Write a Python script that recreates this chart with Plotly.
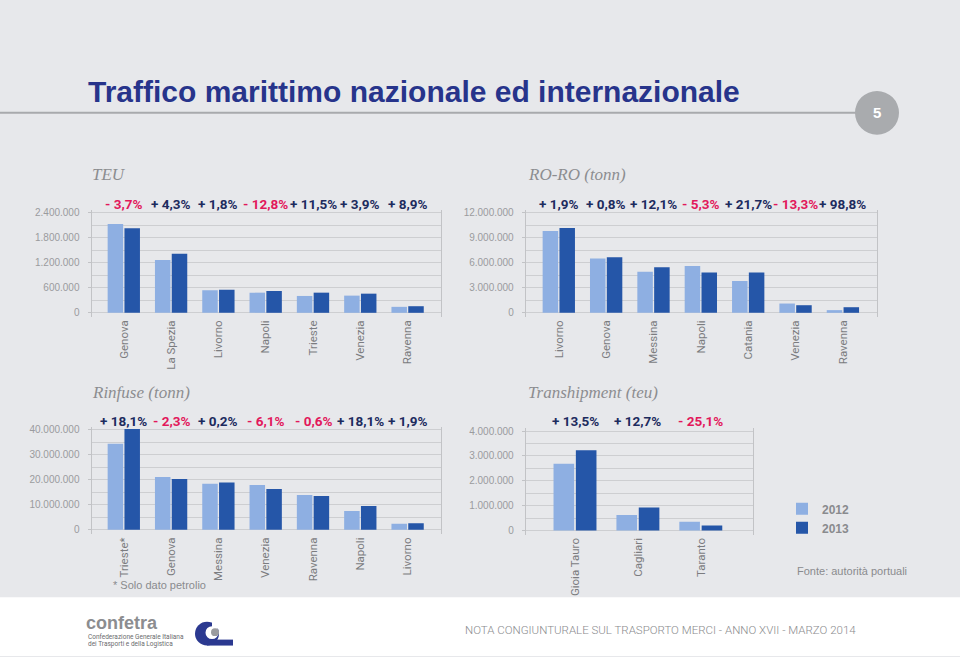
import plotly.graph_objects as go

# ---------------- DATA ----------------
teu_ports = ["Genova", "La Spezia", "Livorno", "Napoli", "Trieste", "Venezia", "Ravenna"]
teu_2012 = [2130000, 1267000, 539000, 483000, 404000, 412000, 143000]
teu_2013 = [2030000, 1418000, 554000, 523000, 483000, 459000, 158000]
teu_pct = ["- 3,7%", "+ 4,3%", "+ 1,8%", "- 12,8%", "+ 11,5%", "+ 3,9%", "+ 8,9%"]

roro_ports = ["Livorno", "Genova", "Messina", "Napoli", "Catania", "Venezia", "Ravenna"]
roro_2012 = [9820000, 6500000, 4910000, 5620000, 3800000, 1110000, 320000]
roro_2013 = [10180000, 6650000, 5470000, 4830000, 4830000, 910000, 670000]
roro_pct = ["+ 1,9%", "+ 0,8%", "+ 12,1%", "- 5,3%", "+ 21,7%", "- 13,3%", "+ 98,8%"]

rinf_ports = ["Trieste*", "Genova", "Messina", "Venezia", "Ravenna", "Napoli", "Livorno"]
rinf_2012 = [34400000, 21060000, 18400000, 17880000, 13900000, 7550000, 2380000]
rinf_2013 = [40300000, 20260000, 18940000, 16290000, 13500000, 9540000, 2650000]
rinf_pct = ["+ 18,1%", "- 2,3%", "+ 0,2%", "- 6,1%", "- 0,6%", "+ 18,1%", "+ 1,9%"]

trans_ports = ["Gioia Tauro", "Cagliari", "Taranto"]
trans_2012 = [2690000, 627000, 347000]
trans_2013 = [3230000, 920000, 200000]
trans_pct = ["+ 13,5%", "+ 12,7%", "- 25,1%"]

years = ["2012", "2013"]
panel_titles = ["TEU", "RO-RO (tonn)", "Rinfuse (tonn)", "Transhipment (teu)"]
y_tops = [2400000, 12000000, 40000000, 4000000]

# ---------------- STYLE ----------------
W, H = 960, 657
C12 = "#8eafe2"
C13 = "#2556a8"
POS = "#1d2b5e"
NEG = "#e2185b"
GRID = "#cdced1"
ROBOTO = "Roboto, Liberation Sans, Arial, sans-serif"
SANS = "Liberation Sans, Arial, sans-serif"


def px_x(x):
    return x / W


def px_y(y):
    return 1 - y / H


def xgeom(left, right, c0, spacing):
    return [px_x(left), px_x(right)], [(left - c0) / spacing, (right - c0) / spacing]


def ygeom(top, bottom, grid_top, zero, vtop):
    s = vtop / (zero - grid_top)
    return [px_y(bottom), px_y(top)], [-(bottom - zero) * s, vtop + (grid_top - top) * s]


panels = [
    dict(ports=teu_ports, a=teu_2012, b=teu_2013, pct=teu_pct,
         xg=xgeom(91.5, 441, 123.8, 47.3), yg=ygeom(208, 316, 211, 311.7, y_tops[0]),
         pct_y=202.5, title_xy=(90, 173)),
    dict(ports=roro_ports, a=roro_2012, b=roro_2013, pct=roro_pct,
         xg=xgeom(525.7, 877, 558.8, 47.35), yg=ygeom(208, 316, 211, 311.7, y_tops[1]),
         pct_y=202.5, title_xy=(526, 173)),
    dict(ports=rinf_ports, a=rinf_2012, b=rinf_2013, pct=rinf_pct,
         xg=xgeom(91.5, 441, 123.8, 47.3), yg=ygeom(426.5, 534.5, 429.3, 530, y_tops[2]),
         pct_y=420.5, title_xy=(90, 392)),
    dict(ports=trans_ports, a=trans_2012, b=trans_2013, pct=trans_pct,
         xg=xgeom(525.7, 753.3, 575, 62.9), yg=ygeom(427.5, 535, 430.7, 530.7, y_tops[3]),
         pct_y=421, title_xy=(526, 392)),
]

fig = go.Figure()
annotations = []
layout_axes = {}

for i, p in enumerate(panels):
    n = "" if i == 0 else str(i + 1)
    xa, ya = "x" + n, "y" + n
    for vals, col, yr in ((p["a"], C12, years[0]), (p["b"], C13, years[1])):
        fig.add_trace(go.Bar(
            x=p["ports"], y=vals, name="<b>" + yr + "</b>", marker=dict(color=col, line=dict(width=0)),
            xaxis=xa, yaxis=ya, showlegend=(i == 0), legendgroup=yr,
        ))
    vtop = y_tops[i]
    layout_axes["xaxis" + n] = dict(
        domain=p["xg"][0], range=p["xg"][1], anchor=ya, type="category",
        categoryorder="array", categoryarray=p["ports"],
        tickangle=-90, showgrid=False, ticks="", showline=False, zeroline=False,
        tickfont=dict(family=ROBOTO, size=11.5, color="#7b7c7f"), fixedrange=True,
    )
    layout_axes["yaxis" + n] = dict(
        domain=p["yg"][0], range=p["yg"][1], anchor=xa,
        tick0=0, dtick=vtop / 4, tickformat=",d",
        showgrid=True, gridcolor=GRID, gridwidth=1,
        minor=dict(dtick=vtop / 8, tick0=0, showgrid=True, gridcolor=GRID, gridwidth=1, ticks=""),
        zeroline=False, showline=True, mirror=True, linecolor="#c2c3c6", linewidth=1,
        ticks="outside", ticklen=3, tickcolor="#c2c3c6", ticklabelstandoff=6,
        tickfont=dict(family=SANS, size=10, color="#9a9b9e"), fixedrange=True,
    )
    for port, txt_ in zip(p["ports"], p["pct"]):
        annotations.append(dict(
            x=port, xref=xa, y=px_y(p["pct_y"]), yref="paper", text="<b>" + txt_ + "</b>",
            showarrow=False, xanchor="center", yanchor="middle",
            font=dict(family=ROBOTO, size=13.5, color=NEG if txt_.startswith("-") else POS),
        ))
    tx, ty = p["title_xy"]
    annotations.append(dict(
        x=px_x(tx), y=px_y(ty), xref="paper", yref="paper", text="<i>" + panel_titles[i] + "</i>",
        showarrow=False, xanchor="left", yanchor="middle",
        font=dict(family="Liberation Serif, Times New Roman, serif", size=17, color="#8c8d90"),
    ))


def txt(x, y, text, **font):
    return dict(x=px_x(x), y=px_y(y), xref="paper", yref="paper", showarrow=False,
                xanchor="left", yanchor="middle", text=text, font=font)


annotations += [
    txt(86, 89, "<b>Traffico marittimo nazionale ed internazionale</b>",
        family=SANS, size=30, color="#27348b"),
    dict(x=px_x(877), y=px_y(110.5), xref="paper", yref="paper", showarrow=False,
         xanchor="center", yanchor="middle", text="<b>5</b>",
         font=dict(family=SANS, size=15, color="white")),
    txt(111, 586, "* Solo dato petrolio", family=SANS, size=11, color="#8a8b8e"),
    txt(795, 571, "Fonte: autorità portuali", family=SANS, size=11, color="#8a8b8e"),
    txt(463, 631, "NOTA CONGIUNTURALE SUL TRASPORTO MERCI - ANNO XVII - MARZO 2014",
        family=ROBOTO, size=11.5, color="#8a8b8e", weight=300),
    txt(84, 624, "<b>confetra</b>", family=SANS, size=18, color="#8c8d90"),
    txt(86, 637.5, "Confederazione Generale Italiana", family=ROBOTO, size=6.5, color="#6a6b6e"),
    txt(86, 644.5, "dei Trasporti e della Logistica", family=ROBOTO, size=6.5, color="#6a6b6e"),
]


def rect(x0, y0, x1, y1, layer="below", **kw):
    return dict(type="rect", xref="paper", yref="paper", x0=px_x(x0), x1=px_x(x1),
                y0=px_y(y1), y1=px_y(y0), layer=layer, **kw)


def circ(cx, cy, r, **kw):
    return dict(type="circle", xref="paper", yref="paper", x0=px_x(cx - r), x1=px_x(cx + r),
                y0=px_y(cy + r), y1=px_y(cy - r), **kw)


shapes = [
    rect(0, 598, 960, 657, fillcolor="#ffffff", line=dict(width=0)),
    dict(type="line", xref="paper", yref="paper", x0=0, x1=px_x(856), y0=px_y(110.5), y1=px_y(110.5),
         line=dict(color="#a8aaad", width=2), layer="below"),
    circ(877, 110.5, 22, fillcolor="#a9abae", line=dict(width=0), layer="below"),
    # logo
    circ(207, 634.5, 12, fillcolor="#2b3990", line=dict(width=0), layer="above"),
    rect(207, 640.5, 233, 646.5, layer="above", fillcolor="#2b3990", line=dict(width=0)),
    rect(212, 621, 224, 629.5, layer="above", fillcolor="#ffffff", line=dict(width=0)),
    circ(212, 633.5, 6.5, fillcolor="#ffffff", line=dict(width=0), layer="above"),
    circ(215, 633, 4, fillcolor="#9a9b9e", line=dict(width=0), layer="above"),
]

fig.update_layout(
    width=W, height=H, margin=dict(l=0, r=0, t=0, b=0),
    paper_bgcolor="#e7e8eb", plot_bgcolor="rgba(0,0,0,0)",
    separators=",.", barmode="group", bargap=0.29, bargroupgap=0.077,
    showlegend=True,
    legend=dict(x=px_x(782), y=px_y(518.5), xanchor="left", yanchor="middle",
                bgcolor="rgba(0,0,0,0)", font=dict(family=SANS, size=12, color="#8a8b8e"),
                tracegroupgap=0, traceorder="normal"),
    annotations=annotations, shapes=shapes,
    **layout_axes,
)

fig.write_html("out.html", config={"displayModeBar": False},
               post_script="document.body.style.margin='0';document.body.style.overflow='hidden';")
